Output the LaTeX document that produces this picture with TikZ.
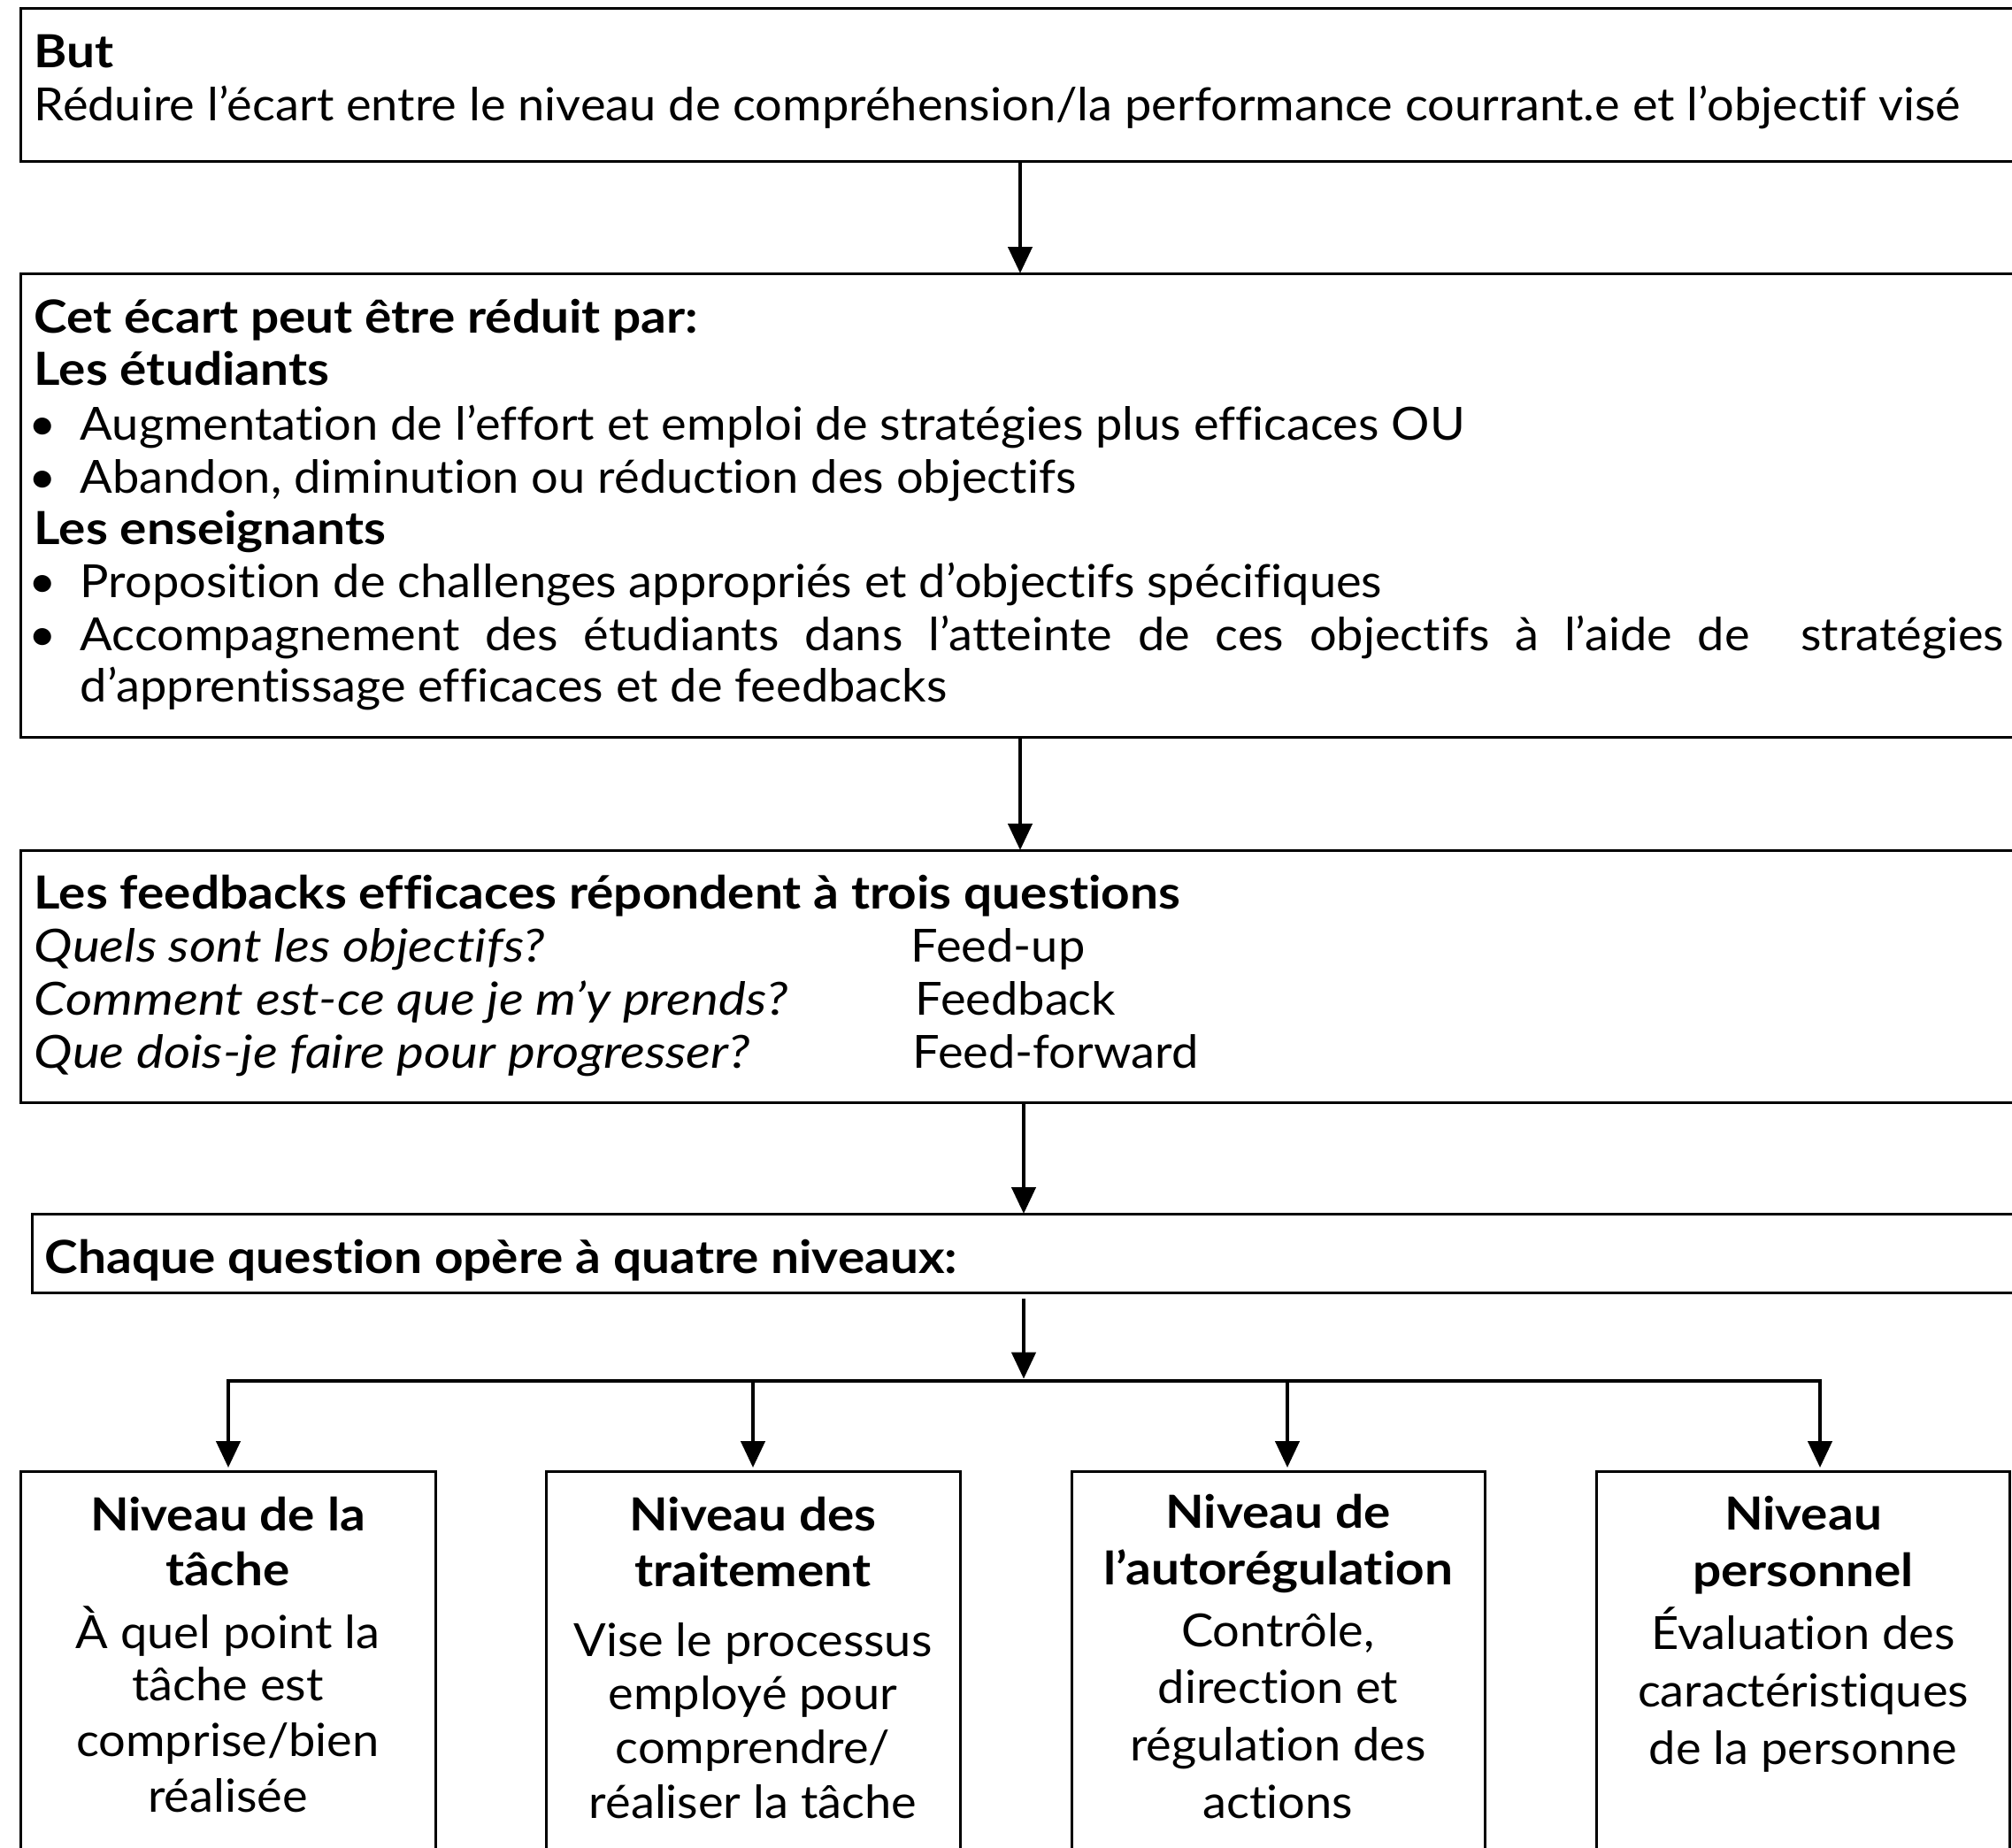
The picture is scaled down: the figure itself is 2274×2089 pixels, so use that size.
\documentclass[tikz,border=0pt]{standalone}
\usepackage{fontspec}
\setmainfont{Lato}[Ligatures=NoCommon, FakeStretch=1.05,
  BoldFeatures={FakeStretch=1.1}, ItalicFeatures={FakeStretch=1.13}]
\usetikzlibrary{arrows.meta}
\newcommand\bodysize{\fontsize{12.9pt}{15pt}\selectfont}

\begin{document}
\begin{tikzpicture}[x=0.25pt, y=-0.25pt,
  frame/.style={draw, line width=0.75pt, inner sep=0pt, outer sep=0pt, anchor=north west},
  ln/.style={anchor=base west, inner sep=0pt, font=\bodysize},
  hd/.style={anchor=base west, inner sep=0pt, font=\bodysize\bfseries},
  it/.style={anchor=base west, inner sep=0pt, font=\bodysize\itshape},
  dot/.style={anchor=base, inner sep=0pt, font=\bodysize},
  ctr/.style={anchor=base, inner sep=0pt, font=\bodysize},
  ctrhd/.style={anchor=base, inner sep=0pt, font=\bodysize\bfseries},
  conn/.style={line width=1.1pt, -{Triangle[width=6.75pt, length=7.5pt]}},
]
\useasboundingbox (0,0) rectangle (2274,2089);
\clip (0,0) rectangle (2274,2089);

% ---- goal box ----
\node[frame, minimum width=569.25pt, minimum height=43.25pt] (goal) at (23,9) {};
\node[hd] (goalA) at (38,76) {But};
\node[ln] (goalB) at (38,136) {Réduire l’écart entre le niveau de compréhension/la performance courrant.e et l’objectif visé};

% ---- how the gap is reduced ----
\node[frame, minimum width=569.25pt, minimum height=131pt] (gap) at (23,309) {};
\node[hd] (gapA) at (38,376) {Cet écart peut être réduit par:};
\node[hd] (gapB) at (38,435) {Les étudiants};
\node[dot] (d1) at (48,497) {•};
\node[ln] (gapC) at (90,497) {Augmentation de l’effort et emploi de stratégies plus efficaces OU};
\node[dot] (d2) at (48,557) {•};
\node[ln] (gapD) at (90,557) {Abandon, diminution ou réduction des objectifs};
\node[hd] (gapE) at (38,615) {Les enseignants};
\node[dot] (d3) at (48,675) {•};
\node[ln] (gapF) at (90,675) {Proposition de challenges appropriés et d’objectifs spécifiques};
\node[dot] (d4) at (48,735) {•};
\node[ln] (gapG) at (90,735) {\makebox[543.5pt][s]{Accompagnement des étudiants dans l’atteinte de ces objectifs à l’aide de\ \ stratégies}};
\node[ln] (gapH) at (90,793) {d’apprentissage efficaces et de feedbacks};

% ---- three questions ----
\node[frame, minimum width=569.25pt, minimum height=71.25pt] (fb) at (23,961) {};
\node[hd] (fbA) at (38,1027) {Les feedbacks efficaces répondent à trois questions};
\node[it] (q1) at (38,1087) {Quels sont les objectifs?};
\node[ln] (r1) at (1029,1087) {Feed-up};
\node[it] (q2) at (38,1147) {Comment est-ce que je m’y prends?};
\node[ln] (r2) at (1034,1147) {Feedback};
\node[it] (q3) at (38,1207) {Que dois-je faire pour progresser?};
\node[ln] (r3) at (1031,1207) {Feed-forward};

% ---- four levels ----
\node[frame, minimum width=566pt, minimum height=22.25pt] (lv) at (36,1372) {};
\node[hd] (lvA) at (50,1439) {Chaque question opère à quatre niveaux:};

% ---- level boxes ----
\node[frame, minimum width=117.25pt, minimum height=114.25pt] (b1) at (23,1663) {};
\node[frame, minimum width=117pt, minimum height=114.25pt] (b2) at (617,1663) {};
\node[frame, minimum width=116.75pt, minimum height=114.25pt] (b3) at (1211,1663) {};
\node[frame, minimum width=116.75pt, minimum height=114.25pt] (b4) at (1804,1663) {};

\node[ctrhd] (b1a) at (257.5,1730) {Niveau de la};
\node[ctrhd] (b1b) at (257.5,1792) {tâche};
\node[ctr] (b1c) at (257.5,1863) {À quel point la};
\node[ctr] (b1d) at (257.5,1922) {tâche est};
\node[ctr] (b1e) at (257.5,1985) {comprise/bien};
\node[ctr] (b1f) at (257.5,2048) {réalisée};

\node[ctrhd] (b2a) at (851,1730) {Niveau des};
\node[ctrhd] (b2b) at (851,1793) {traitement};
\node[ctr] (b2c) at (851,1872) {Vise le processus};
\node[ctr] (b2d) at (851,1932) {employé pour};
\node[ctr] (b2e) at (851,1993) {comprendre/};
\node[ctr] (b2f) at (851,2055) {réaliser la tâche};

\node[ctrhd] (b3a) at (1444.5,1727) {Niveau de};
\node[ctrhd] (b3b) at (1444.5,1791) {l’autorégulation};
\node[ctr] (b3c) at (1444.5,1861) {Contrôle,};
\node[ctr] (b3d) at (1444.5,1925) {direction et};
\node[ctr] (b3e) at (1444.5,1990) {régulation des};
\node[ctr] (b3f) at (1444.5,2055) {actions};

\node[ctrhd] (b4a) at (2038,1729) {Niveau};
\node[ctrhd] (b4b) at (2038,1793) {personnel};
\node[ctr] (b4c) at (2038,1864) {Évaluation des};
\node[ctr] (b4d) at (2038,1929) {caractéristiques};
\node[ctr] (b4e) at (2038,1994) {de la personne};

% ---- connectors ----
\coordinate (ax) at (1153,0);
\coordinate (ay) at (1157,0);
\coordinate (mid) at (1157,1561);
\coordinate (l1) at (258,1561);
\coordinate (l2) at (851,1561);
\coordinate (l3) at (1455,1561);
\coordinate (l4) at (2057,1561);

\draw[conn] (goal.south -| ax) -- (gap.north -| ax);
\draw[conn] (gap.south -| ax) -- (fb.north -| ax);
\draw[conn] (fb.south -| ay) -- (lv.north -| ay);
\draw[conn, shorten <=1.75pt, shorten >=0.6pt] (lv.south -| ay) -- (mid);
\draw[conn, shorten >=1pt] (l4) -- (l1) -- (l1 |- b1.north);
\draw[conn, shorten >=1pt] (l1) -- (l4) -- (l4 |- b4.north);
\draw[conn, shorten >=1pt] (l2) -- (l2 |- b2.north);
\draw[conn, shorten >=1pt] (l3) -- (l3 |- b3.north);
\end{tikzpicture}
\end{document}
